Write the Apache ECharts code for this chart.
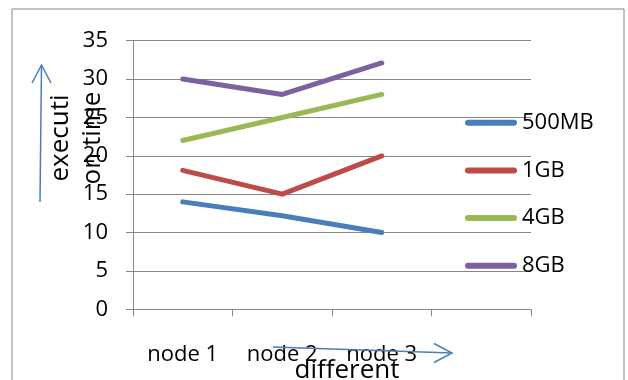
<!DOCTYPE html>
<html><head><meta charset="utf-8">
<script src="https://cdn.jsdelivr.net/npm/echarts@6/dist/echarts.min.js"></script>
<style>html,body{margin:0;padding:0;background:#fff}#c{width:628px;height:380px}</style>
</head><body><div id="c"></div>
<script>
const categories = ['node 1', 'node 2', 'node 3', ''];
const seriesNames = ['500MB', '1GB', '4GB', '8GB'];
const v500MB = [14, 12.2, 10];
const v1GB = [18.1, 15, 20];
const v4GB = [22, 25, 28];
const v8GB = [30, 28, 32.1];
const yTicks = { min: 0, max: 35, interval: 5 };
const colors = ['#4A7EBB', '#BE4B48', '#98B954', '#7D60A0'];
const values = [v500MB, v1GB, v4GB, v8GB];

const FONT = 'Open Sans';
const gray = '#868686';
const chart = echarts.init(document.getElementById('c'), null, { renderer: 'canvas' });
chart.setOption({
  animation: false,
  textStyle: { fontFamily: FONT, color: '#000' },
  grid: { left: 133, right: 97, top: 40.7, bottom: 70.7, containLabel: false, outerBoundsMode: 'none' },
  xAxis: {
    type: 'category', data: categories, boundaryGap: true,
    axisLine: { lineStyle: { color: gray, width: 1 } },
    axisTick: { show: true, length: 7, inside: false, lineStyle: { color: gray } },
    axisLabel: { fontSize: 22, color: '#000', margin: 34, fontFamily: FONT },
    name: 'different', nameLocation: 'middle', nameGap: 46, nameMoveOverlap: false,
    nameTextStyle: { fontSize: 26, color: '#000', fontFamily: FONT, lineHeight: 30, padding: [0, 0, 0, 30] }
  },
  yAxis: {
    type: 'value', min: yTicks.min, max: yTicks.max, interval: yTicks.interval,
    axisLine: { show: true, lineStyle: { color: gray, width: 1 } },
    axisTick: { show: true, length: 7, lineStyle: { color: gray } },
    splitLine: { show: true, lineStyle: { color: gray, width: 1 } },
    axisLabel: { fontSize: 22, color: '#000', margin: 25, fontFamily: FONT },
    name: 'executi\non time', nameLocation: 'middle', nameRotate: 90, nameGap: 24, nameMoveOverlap: false,
    nameTextStyle: { fontSize: 26, color: '#000', fontFamily: FONT, lineHeight: 32, padding: [0, 0, 0, 74] }
  },
  legend: {
    orient: 'vertical', left: 465, top: 110.7, padding: 0,
    itemWidth: 52, itemHeight: 6, itemGap: 23.7,
    icon: 'path://M3,0H49A3,3,0,0,1,49,6H3A3,3,0,0,1,3,0Z',
    textStyle: { fontSize: 22, color: '#000', fontFamily: FONT, lineHeight: 24 },
    data: seriesNames
  },
  series: seriesNames.map((n, i) => ({
    name: n, type: 'line', data: values[i], symbol: 'none', showSymbol: false,
    color: colors[i],
    lineStyle: { width: 5, color: colors[i], cap: 'round', join: 'round' }
  })),
  graphic: [
    { type: 'rect', shape: { x: 12, y: 9, width: 612, height: 400 }, style: { fill: 'none', stroke: gray, lineWidth: 1 }, silent: true },
    { type: 'polyline', shape: { points: [[40, 202], [41.5, 65]] }, style: { stroke: '#4A7EBB', lineWidth: 1.5, fill: 'none' }, silent: true },
    { type: 'polyline', shape: { points: [[32, 83], [41.5, 65], [51, 83]] }, style: { stroke: '#4A7EBB', lineWidth: 1.5, fill: 'none' }, silent: true },
    { type: 'polyline', shape: { points: [[273, 347], [452, 353]] }, style: { stroke: '#4A7EBB', lineWidth: 1.5, fill: 'none' }, silent: true, z: 100 },
    { type: 'polyline', shape: { points: [[434, 343.5], [452, 353], [434, 362.5]] }, style: { stroke: '#4A7EBB', lineWidth: 1.5, fill: 'none' }, silent: true, z: 100 }
  ]
});
</script></body></html>
